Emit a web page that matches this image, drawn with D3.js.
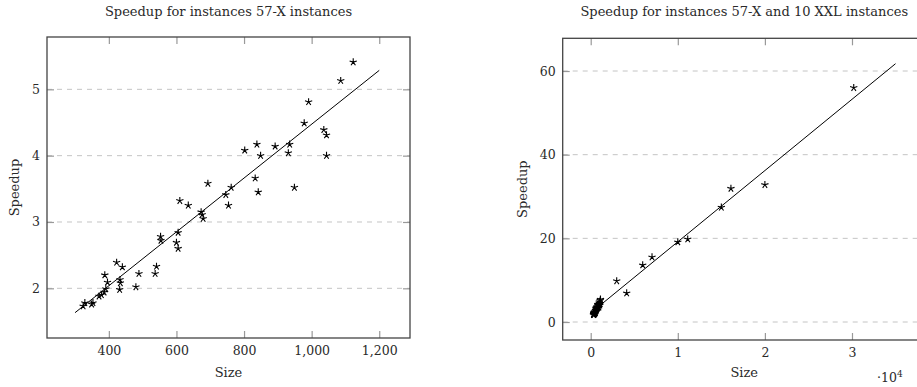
<!DOCTYPE html>
<html>
<head>
<meta charset="utf-8">
<title>Speedup</title>
<script src="https://cdn.jsdelivr.net/npm/d3@7"></script>
<style>
  html, body { margin: 0; padding: 0; background: #fff; }
  svg { display: block; }
  text { font-family: "DejaVu Serif", "Liberation Serif", serif; fill: #2a2a2a; }
</style>
</head>
<body>
<svg id="chart" width="917" height="387"></svg>
<script>
"use strict";

// 57-X instances
const size57 = [
  1123, 1086, 991, 978, 1036, 1044, 1044, 949, 935, 931,
  892, 838, 849, 802, 833, 842, 762, 693, 746, 754,
  610, 635, 673, 676, 679, 605, 600, 605, 553, 554,
  541, 537, 489, 480, 423, 440, 433, 434, 432, 388,
  396, 391, 386, 378, 371, 353, 349, 329, 324,
];
const speedup57 = [
  5.41, 5.13, 4.81, 4.49, 4.39, 4.31, 4.00, 3.52, 4.17, 4.04,
  4.14, 4.17, 4.00, 4.08, 3.66, 3.45, 3.52, 3.58, 3.41, 3.25,
  3.32, 3.25, 3.15, 3.11, 3.05, 2.84, 2.69, 2.60, 2.78, 2.72,
  2.33, 2.22, 2.22, 2.02, 2.39, 2.32, 2.13, 2.08, 1.98, 2.20,
  2.09, 1.99, 1.94, 1.90, 1.88, 1.78, 1.76, 1.78, 1.73,
];

// 10 XXL instances
const sizeXXL = [30200, 20000, 16100, 15000, 11140, 10000, 7040, 5970, 2985, 4130];
const speedupXXL = [56.0, 32.8, 31.9, 27.4, 19.8, 19.1, 15.5, 13.6, 9.8, 6.9];

// fitted lines, [size, speedup] at both ends
const fit57 = [[300, 1.633], [1200, 5.286]];
const fitAll = [[300, 2.66], [35000, 61.75]];

const ticksX57 = [400, 600, 800, 1000, 1200];
const ticksY57 = [2, 3, 4, 5];
const ticksXAll = [0, 10000, 20000, 30000];
const ticksYAll = [0, 20, 40, 60];

const titles = [
  "Speedup for instances 57-X instances",
  "Speedup for instances 57-X and 10 XXL instances",
];

window.addEventListener("load", function () {
  const pts57 = size57.map((s, i) => [s, speedup57[i]]);
  const ptsXXL = sizeXXL.map((s, i) => [s, speedupXXL[i]]);

  draw({
    box: [47, 37, 410, 338],
    xDomain: [217, 1291],
    yDomain: [1.251, 5.789],
    xTicks: ticksX57,
    yTicks: ticksY57,
    xFormat: d3.format(",d"),
    points: pts57,
    fit: fit57,
    title: titles[0],
    yLabelOff: 28,
  });

  draw({
    box: [562.7, 38.3, 925.8, 340],
    xDomain: [-3215, 38474],
    yDomain: [-4.3, 67.82],
    xTicks: ticksXAll,
    yTicks: ticksYAll,
    xFormat: (v) => String(v / 10000),
    points: pts57.concat(ptsXXL),
    fit: fitAll,
    title: titles[1],
    yLabelOff: 36,
    scaleNote: true,
  });
});

// pgfplots-like "star" mark: five spokes from the centre
function starPath(r) {
  let p = "";
  for (let k = 0; k < 5; k++) {
    const a = -Math.PI / 2 + (k * 2 * Math.PI) / 5;
    p += `M0,0L${(r * Math.cos(a)).toFixed(2)},${(r * Math.sin(a)).toFixed(2)}`;
  }
  return p;
}

function draw(opt) {
  const svg = d3.select("#chart");
  const [x0, y0, x1, y1] = opt.box;
  const x = d3.scaleLinear().domain(opt.xDomain).range([x0, x1]);
  const y = d3.scaleLinear().domain(opt.yDomain).range([y1, y0]);
  const g = svg.append("g");
  const cx = (x0 + x1) / 2;
  const cy = (y0 + y1) / 2;

  // dashed horizontal grid
  g.append("g")
    .selectAll("line")
    .data(opt.yTicks)
    .enter()
    .append("line")
    .attr("x1", x0)
    .attr("x2", x1)
    .attr("y1", (v) => y(v))
    .attr("y2", (v) => y(v))
    .attr("stroke", "#c4c4c4")
    .attr("stroke-width", 1)
    .attr("stroke-dasharray", "5,5");

  // ticks inside on all four sides, labels bottom / left
  const tickLen = 7;
  const axisB = d3.axisBottom(x).tickValues(opt.xTicks).tickSize(-tickLen).tickFormat(opt.xFormat).tickPadding(8);
  const axisT = d3.axisTop(x).tickValues(opt.xTicks).tickSize(-tickLen).tickFormat("");
  const axisL = d3.axisLeft(y).tickValues(opt.yTicks).tickSize(-tickLen).tickFormat(d3.format("d")).tickPadding(7);
  const axisR = d3.axisRight(y).tickValues(opt.yTicks).tickSize(-tickLen).tickFormat("");

  const styleAxis = (sel) => {
    sel.select(".domain").remove();
    sel.selectAll(".tick line").attr("stroke", "#999").attr("stroke-width", 1.2);
    sel.selectAll(".tick text").attr("font-size", 12.5).attr("fill", "#2a2a2a").attr("font-family", "DejaVu Serif");
  };

  g.append("g").attr("transform", `translate(0,${y1})`).call(axisB).call(styleAxis);
  g.append("g").attr("transform", `translate(0,${y0})`).call(axisT).call(styleAxis);
  g.append("g").attr("transform", `translate(${x0},0)`).call(axisL).call(styleAxis);
  g.append("g").attr("transform", `translate(${x1},0)`).call(axisR).call(styleAxis);

  // frame
  g.append("rect")
    .attr("x", x0)
    .attr("y", y0)
    .attr("width", x1 - x0)
    .attr("height", y1 - y0)
    .attr("fill", "none")
    .attr("stroke", "#444")
    .attr("stroke-width", 1.3);

  // fitted line
  g.append("path")
    .datum(opt.fit)
    .attr("d", d3.line().x((d) => x(d[0])).y((d) => y(d[1])))
    .attr("fill", "none")
    .attr("stroke", "#000")
    .attr("stroke-width", 1);

  // data marks
  const star = starPath(3.8);
  g.append("g")
    .selectAll("path")
    .data(opt.points)
    .enter()
    .append("path")
    .attr("d", star)
    .attr("transform", (d) => `translate(${x(d[0])},${y(d[1])})`)
    .attr("fill", "none")
    .attr("stroke", "#000")
    .attr("stroke-width", 1.1);

  // title and axis labels
  g.append("text")
    .attr("x", cx)
    .attr("y", 16)
    .attr("text-anchor", "middle")
    .attr("font-size", 13)
    .text(opt.title);

  g.append("text")
    .attr("x", cx)
    .attr("y", 377)
    .attr("text-anchor", "middle")
    .attr("font-size", 13)
    .text("Size");

  g.append("text")
    .attr("transform", `translate(${x0 - opt.yLabelOff},${cy}) rotate(-90)`)
    .attr("text-anchor", "middle")
    .attr("font-size", 13)
    .text("Speedup");

  if (opt.scaleNote) {
    const t = g.append("text")
      .attr("x", 877)
      .attr("y", 382)
      .attr("font-size", 12.5);
    t.append("tspan").text("\u00b710");
    t.append("tspan").attr("dy", -5).attr("font-size", 9).text("4");
  }
}
</script>
</body>
</html>
